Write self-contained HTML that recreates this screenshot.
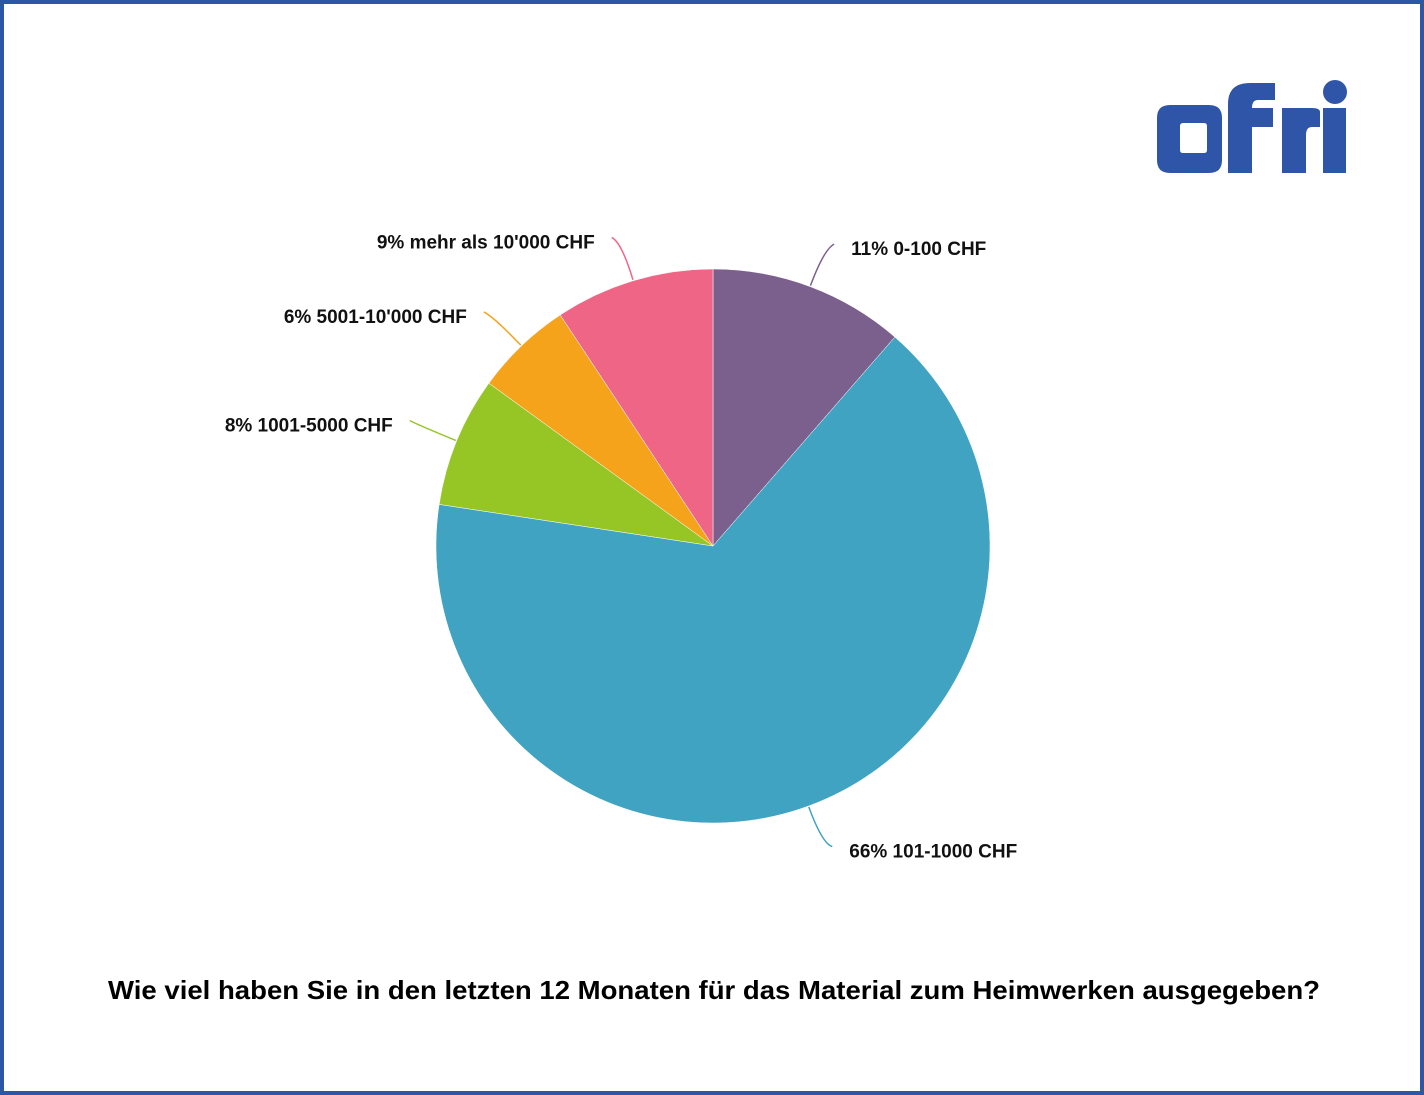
<!DOCTYPE html>
<html><head><meta charset="utf-8"><style>
html,body{margin:0;padding:0;background:#fff;}
svg{display:block;}
</style></head><body>
<svg id="chart" width="1424" height="1095" viewBox="0 0 1424 1095" xmlns="http://www.w3.org/2000/svg">
<rect x="2" y="2" width="1420" height="1091" fill="#fff" stroke="#2e56a6" stroke-width="4"/>
<g fill="#2f55a8">
<path fill-rule="evenodd" d="M1170 105 H1209 Q1222 105 1222 118 V160 Q1222 173 1209 173 H1170 Q1157 173 1157 160 V118 Q1157 105 1170 105 Z M1183 123 H1204 Q1207 123 1207 126 V150 Q1207 153 1204 153 H1183 Q1180 153 1180 150 V126 Q1180 123 1183 123 Z"/>
<path d="M1228 173 V104 Q1228 83 1250 83 H1275 V100 H1258 Q1252 100 1252 108 H1273 V127 H1252 V173 Z"/>
<path d="M1282 173 V108 H1312 Q1320 108 1320 112 V127 H1312 Q1306 127 1306 135 V173 Z"/>
<rect x="1323" y="108" width="23" height="65"/>
<circle cx="1335" cy="92" r="12"/>
</g>
<g id="pie"></g>
<g id="labels"></g>
<text x="714" y="999" text-anchor="middle" textLength="1212" lengthAdjust="spacingAndGlyphs" font-family="'Liberation Sans', sans-serif" font-weight="bold" font-size="26" fill="#000">Wie viel haben Sie in den letzten 12 Monaten für das Material zum Heimwerken ausgegeben?</text>
</svg>
<script>
const categories = ["0-100 CHF", "101-1000 CHF", "1001-5000 CHF", "5001-10'000 CHF", "mehr als 10'000 CHF"];
const values = [11.4, 66, 7.6, 5.7, 9.3];
const colors = ["#7b5f8d", "#40a3c1", "#95c626", "#f4a31b", "#ef6585"];
const names = ["slice-0-100", "slice-101-1000", "slice-1001-5000", "slice-5001-10000", "slice-over-10000"];

const NS = "http://www.w3.org/2000/svg";
const cx = 713, cy = 546, R = 277;
const total = values.reduce((a, b) => a + b, 0);
function pt(angDeg, r) { const a = angDeg * Math.PI / 180; return [cx + r * Math.sin(a), cy - r * Math.cos(a)]; }
const pie = document.getElementById('pie');
const labels = document.getElementById('labels');
let start = 0;
values.forEach((v, i) => {
  const sweep = v / total * 360;
  const end = start + sweep;
  const p0 = pt(start, R), p1 = pt(end, R);
  const path = document.createElementNS(NS, 'path');
  path.setAttribute('d', `M${cx} ${cy} L${p0[0]} ${p0[1]} A${R} ${R} 0 ${sweep > 180 ? 1 : 0} 1 ${p1[0]} ${p1[1]} Z`);
  path.setAttribute('fill', colors[i]);
  path.setAttribute('stroke', '#fff');
  path.setAttribute('stroke-width', '0.5');
  
  
  pie.appendChild(path);
  const mid = start + sweep / 2;
  const right = Math.sin(mid * Math.PI / 180) >= 0;
  const up = Math.cos(mid * Math.PI / 180) > 0;
  const a = pt(mid, R + 1);
  const b = pt(mid, R + 40);
  const ex = b[0] + (right ? 10 : -10);
  const ey = b[1] + (up ? -5 : 3);
  const line = document.createElementNS(NS, 'path');
  line.setAttribute('d', `M${a[0]} ${a[1]} Q${b[0]} ${b[1]} ${ex} ${ey}`);
  line.setAttribute('fill', 'none');
  line.setAttribute('stroke', colors[i]);
  line.setAttribute('stroke-width', '1.5');
  
  
  labels.appendChild(line);
  const t = document.createElementNS(NS, 'text');
  t.setAttribute('x', right ? ex + 17 : ex - 17);
  t.setAttribute('y', ey + 11);
  t.setAttribute('text-anchor', right ? 'start' : 'end');
  t.setAttribute('font-family', "'Liberation Sans', sans-serif");
  t.setAttribute('font-weight', 'bold');
  t.setAttribute('font-size', '19');
  t.setAttribute('fill', '#111');
  t.textContent = Math.round(v / total * 100) + '% ' + categories[i];
  
  
  labels.appendChild(t);
  start = end;
});
</script>
</body></html>
